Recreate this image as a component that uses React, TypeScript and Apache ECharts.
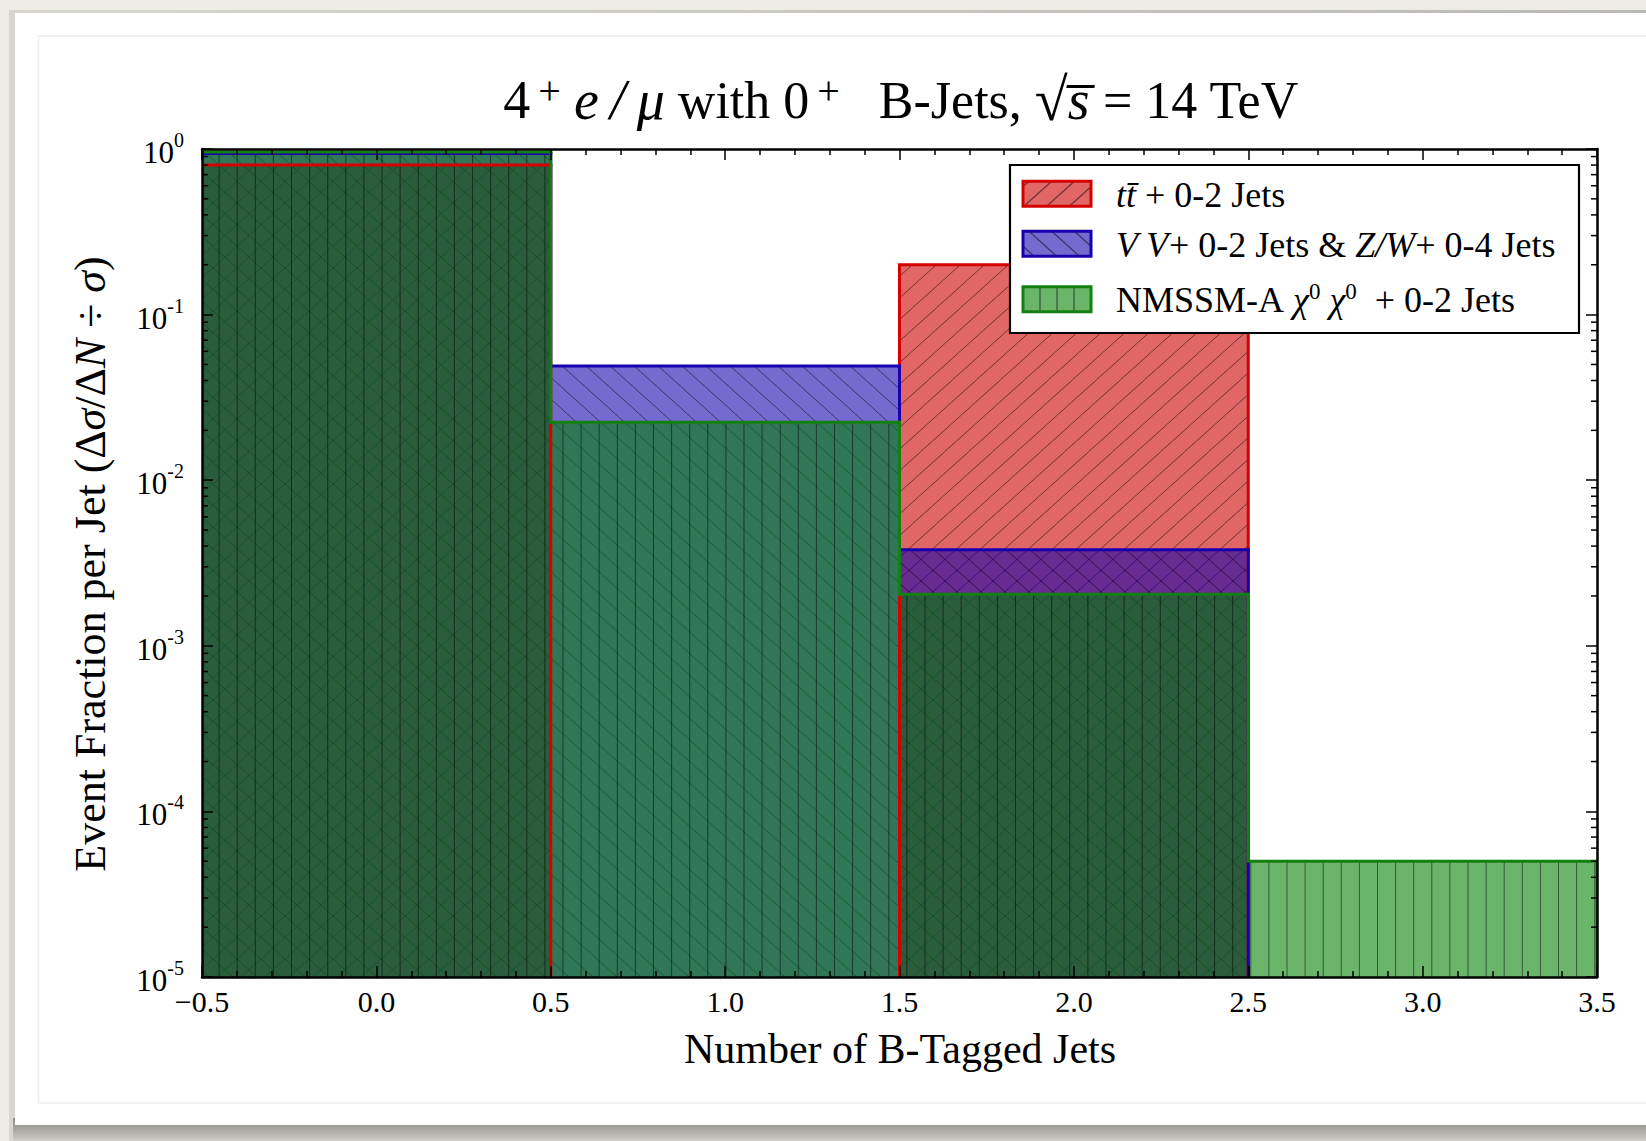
import React, { useEffect, useRef } from "react";
import * as echarts from "echarts";

// ---- data -------------------------------------------------------------
const BIN_EDGES = [-0.5, 0.5, 1.5, 2.5, 3.5];
const TTBAR_FRACTION = [0.8, 0, 0.2, 0];
const DIBOSON_FRACTION = [0.94, 0.049, 0.0038, 0];
const NMSSM_FRACTION = [0.96, 0.0224, 0.00205, 0.00005];

const SERIES_LABELS = [
  "{i|tt\u0304} + 0-2 Jets",
  "{i|V V}+ 0-2 Jets & {i|Z/W}+ 0-4 Jets",
  "NMSSM-A {i|\u03c7}{sup|0} {i|\u03c7}{sup|0}  + 0-2 Jets",
];

const X_MIN = -0.5;
const X_MAX = 3.5;
const X_STEP = 0.5;
const Y_MIN = 1e-5;
const Y_MAX = 1;

const TITLE_TEXT =
  "{n|4}{sup|\u2009+} {i|e\u2009/\u2009\u03bc} with 0{sup|\u2009+}   B-Jets, {rad|\u221a}{i|s\u0305} = 14 TeV";
const X_NAME = "Number of B-Tagged Jets";
const Y_NAME = "Event Fraction per Jet (\u0394{i|\u03c3}/\u0394{i|N} \u00f7 {i|\u03c3})";

// ---- styling ----------------------------------------------------------
const SERIF = "'Liberation Serif', 'DejaVu Serif', serif";
const HATCH_INK = "rgba(0,0,0,0.5)";
const HATCH_WIDTH = 1.0;
const SLOPE = 0.9;

type Hatch = "/" | "\\" | "|";

const STYLES: { face: string; edge: string; hatch: Hatch }[] = [
  { face: "rgba(205,0,0,0.6)", edge: "#d60000", hatch: "/" },
  { face: "rgba(17,0,172,0.58)", edge: "#1800b0", hatch: "\\" },
  { face: "rgba(0,128,0,0.58)", edge: "#138012", hatch: "|" },
];
const SERIES_DATA = [TTBAR_FRACTION, DIBOSON_FRACTION, NMSSM_FRACTION];

// line segments of a hatch pattern clipped to a pixel rectangle
function hatchSegments(
  L: number, T: number, R: number, B: number,
  kind: Hatch, ox: number, oy: number, sp: number
): number[][] {
  const out: number[][] = [];
  if (kind === "|") {
    const k0 = Math.ceil((L - ox) / sp);
    for (let k = k0; ox + k * sp < R; k++) {
      const x = ox + k * sp;
      if (x - L < 0.8) continue;
      out.push([x, T, x, B]);
    }
    return out;
  }
  const m = SLOPE;
  const dv = m * sp;
  if (kind === "/") {
    const c0 = oy + m * ox;
    const cmin = T + m * L, cmax = B + m * R;
    for (let k = Math.ceil((cmin - c0) / dv); c0 + k * dv <= cmax; k++) {
      const c = c0 + k * dv;
      const xa = Math.max(L, (c - B) / m);
      const xb = Math.min(R, (c - T) / m);
      if (xb - xa > 0.8) out.push([xa, c - m * xa, xb, c - m * xb]);
    }
  } else {
    const c0 = oy - m * ox;
    const cmin = T - m * R, cmax = B - m * L;
    for (let k = Math.ceil((cmin - c0) / dv); c0 + k * dv <= cmax; k++) {
      const c = c0 + k * dv;
      const xa = Math.max(L, (T - c) / m);
      const xb = Math.min(R, (B - c) / m);
      if (xb - xa > 0.8) out.push([xa, c + m * xa, xb, c + m * xb]);
    }
  }
  return out;
}

function fillRenderer(face: string, hatch: Hatch) {
  return (params: any, api: any) => {
    const x0 = api.value(0), x1 = api.value(1), v = api.value(2);
    if (!(v > 0)) return null;
    const tl = api.coord([x0, v]);
    const br = api.coord([x1, Y_MIN]);
    const cs = params.coordSys;
    const L = tl[0], T = tl[1], R = br[0], B = br[1];
    const sp = hatch === "|" ? 18.1 : 24;
    const segs = hatchSegments(L, T, R, B, hatch, cs.x - 1, cs.y, sp);
    return {
      type: "group",
      children: [
        { type: "rect", shape: { x: L, y: T, width: R - L, height: B - T }, style: { fill: face } },
        ...segs.map((s) => ({
          type: "line",
          shape: { x1: s[0], y1: s[1], x2: s[2], y2: s[3] },
          style: { stroke: HATCH_INK, lineWidth: HATCH_WIDTH },
        })),
      ],
    };
  };
}

function outlineRenderer(edge: string) {
  return (_params: any, api: any) => {
    const x0 = api.value(0), x1 = api.value(1), prev = api.value(2), v = api.value(3), last = api.value(4);
    const lo = (q: number) => (q > 0 ? q : Y_MIN);
    if (!(prev > 0) && !(v > 0)) return null;
    const pts = [api.coord([x0, lo(prev)]), api.coord([x0, lo(v)])];
    if (v > 0) {
      pts.push(api.coord([x1, v]));
      if (last) pts.push(api.coord([x1, Y_MIN]));
    }
    return {
      type: "polyline",
      shape: { points: pts },
      style: { stroke: edge, lineWidth: 3, fill: null, lineJoin: "miter", lineCap: "square" },
    };
  };
}

function minorTickRenderer(_params: any, api: any) {
  const v = api.value(0);
  const l = api.coord([X_MIN, v]);
  const r = api.coord([X_MAX, v]);
  return {
    type: "group",
    children: [
      { type: "line", shape: { x1: l[0], y1: l[1], x2: l[0] + 6, y2: l[1] }, style: { stroke: "#000", lineWidth: 1.5 } },
      { type: "line", shape: { x1: r[0] - 6, y1: r[1], x2: r[0], y2: r[1] }, style: { stroke: "#000", lineWidth: 1.5 } },
    ],
  };
}

function buildOption() {
  const bins = BIN_EDGES.slice(0, -1).map((e, i) => [e, BIN_EDGES[i + 1]]);
  const minorY: number[][] = [];
  for (let e = -5; e < 0; e++) for (let m = 2; m <= 9; m++) minorY.push([m * Math.pow(10, e)]);

  const fills = SERIES_DATA.map((vals, s) => ({
    type: "custom",
    name: `fill${s}`,
    xAxisIndex: 0,
    yAxisIndex: 0,
    clip: true,
    renderItem: fillRenderer(STYLES[s].face, STYLES[s].hatch),
    encode: { x: [0, 1], y: 2 },
    data: bins.map((b, i) => [b[0], b[1], vals[i]]).filter((d) => d[2] > 0),
    z: 2,
  }));
  const outlines = SERIES_DATA.map((vals, s) => ({
    type: "custom",
    name: `edge${s}`,
    xAxisIndex: 0,
    yAxisIndex: 0,
    clip: true,
    renderItem: outlineRenderer(STYLES[s].edge),
    encode: { x: [0, 1], y: 3 },
    data: bins.map((b, i) => [b[0], b[1], i === 0 ? 0 : vals[i - 1], vals[i], i === bins.length - 1 ? 1 : 0]),
    z: 3,
  }));

  const tickLine = { lineStyle: { color: "#000", width: 1.5 } };
  const xAxisBase = {
    type: "value",
    min: X_MIN,
    max: X_MAX,
    interval: X_STEP,
    splitLine: { show: false },
    axisLine: { show: true, onZero: false, lineStyle: { color: "#000", width: 2.5 } },
    axisTick: { show: true, inside: true, length: 11, ...tickLine },
    minorTick: { show: true, splitNumber: 5, length: 6, ...tickLine },
    z: 10,
  };
  const yAxisBase = {
    type: "log",
    logBase: 10,
    min: Y_MIN,
    max: Y_MAX,
    splitNumber: 5,
    splitLine: { show: false },
    axisLine: { show: true, onZero: false, lineStyle: { color: "#000", width: 2.5 } },
    axisTick: { show: true, inside: true, length: 11, ...tickLine },
    z: 10,
  };

  const LEGEND_FONT = 36;
  const legendElements: any[] = [];
  const rowY = [193.7, 243.8, 299.2];
  const box = { x: 1010, y: 165, w: 569, h: 168 };
  legendElements.push({
    type: "rect",
    z: 50,
    shape: { x: box.x, y: box.y, width: box.w, height: box.h },
    style: { fill: "#fff", stroke: "#000", lineWidth: 2.2 },
  });
  SERIES_LABELS.forEach((label, s) => {
    const px = 1023, pw = 68, ph = 25;
    const py = rowY[s] - ph / 2;
    legendElements.push({
      type: "rect",
      z: 51,
      shape: { x: px, y: py, width: pw, height: ph },
      style: { fill: STYLES[s].face, stroke: null },
    });
    const sp = STYLES[s].hatch === "|" ? 17 : 22.7;
    const ox = STYLES[s].hatch === "|" ? px : px + 6;
    hatchSegments(px, py, px + pw, py + ph, STYLES[s].hatch, ox, py, sp).forEach((g) => {
      legendElements.push({
        type: "line",
        z: 52,
        shape: { x1: g[0], y1: g[1], x2: g[2], y2: g[3] },
        style: { stroke: HATCH_INK, lineWidth: 1.3 },
      });
    });
    legendElements.push({
      type: "rect",
      z: 53,
      shape: { x: px, y: py, width: pw, height: ph },
      style: { fill: null, stroke: STYLES[s].edge, lineWidth: 3 },
    });
    legendElements.push({
      type: "text",
      z: 53,
      x: 1116,
      y: rowY[s] + 1,
      style: {
        text: label,
        font: `${LEGEND_FONT}px ${SERIF}`,
        fill: "#000",
        textAlign: "left",
        textVerticalAlign: "middle",
        rich: {
          i: { fontStyle: "italic", fontSize: LEGEND_FONT, fontFamily: SERIF },
          sup: { fontSize: 23, fontFamily: SERIF, verticalAlign: "top", lineHeight: 40 },
        },
      },
    });
  });

  const TITLE_FONT = 52;
  const frame: any[] = [
    // card shadow and card
    { type: "rect", z: -10, shape: { x: 9, y: 10, width: 1700, height: 1131 }, style: { fill: new echarts.graphic.LinearGradient(1, 0, 0, 0, [{ offset: 0, color: "#b9b8b4" }, { offset: 1, color: "#d8d6d0" }]) } },
    { type: "rect", z: -9, shape: { x: 13, y: 1118, width: 1700, height: 23 }, style: { fill: new echarts.graphic.LinearGradient(0, 0, 0, 1, [{ offset: 0, color: "#8d8c89" }, { offset: 0.5, color: "#a8a7a3" }, { offset: 1, color: "#cfcdc7" }]) } },
    { type: "rect", z: -8, shape: { x: 15, y: 13, width: 1700, height: 1112 }, style: { fill: "#ffffff" } },
    { type: "rect", z: -7, shape: { x: 38.5, y: 36, width: 1700, height: 1067 }, style: { fill: null, stroke: "#ececec", lineWidth: 1.5 } },
    // title
    {
      type: "text",
      z: 5,
      x: 901,
      y: 100,
      style: {
        text: TITLE_TEXT,
        font: `${TITLE_FONT}px ${SERIF}`,
        fill: "#000",
        textAlign: "center",
        textVerticalAlign: "middle",
        rich: {
          n: { fontSize: TITLE_FONT + 2, fontFamily: SERIF },
          i: { fontSize: TITLE_FONT + 4, fontFamily: SERIF, fontStyle: "italic" },
          rad: { fontSize: TITLE_FONT + 8, fontFamily: SERIF },
          sup: { fontSize: 40, fontFamily: SERIF, verticalAlign: "top", lineHeight: 60 },
        },
      },
    },
    // axis names
    {
      type: "text",
      z: 5,
      x: 900,
      y: 1049,
      style: { text: X_NAME, font: `42px ${SERIF}`, fill: "#000", textAlign: "center", textVerticalAlign: "middle" },
    },
    {
      type: "text",
      z: 5,
      x: 90,
      y: 564,
      rotation: Math.PI / 2,
      style: {
        text: Y_NAME,
        font: `44px ${SERIF}`,
        fill: "#000",
        textAlign: "center",
        textVerticalAlign: "middle",
        rich: { i: { fontStyle: "italic", fontSize: 44, fontFamily: SERIF } },
      },
    },
  ];

  return {
    animation: false,
    backgroundColor: "#efece5",
    grid: { left: 202, top: 149, right: 49, bottom: 164, containLabel: false },
    xAxis: [
      {
        ...xAxisBase,
        position: "bottom",
        axisLabel: {
          show: true,
          margin: 9,
          color: "#000",
          fontSize: 30,
          fontFamily: SERIF,
          formatter: (v: number) => (v < 0 ? "\u2212" + Math.abs(v).toFixed(1) : v.toFixed(1)),
        },
      },
      { ...xAxisBase, position: "top", axisLabel: { show: false } },
    ],
    yAxis: [
      {
        ...yAxisBase,
        position: "left",
        axisLabel: {
          show: true,
          margin: 18,
          color: "#000",
          fontFamily: SERIF,
          formatter: (v: number) => `{b|10}{s|${Math.round(Math.log10(v))}}`,
          rich: {
            b: { fontSize: 31, fontFamily: SERIF, verticalAlign: "bottom", lineHeight: 38 },
            s: { fontSize: 20, fontFamily: SERIF, verticalAlign: "top", lineHeight: 38 },
          },
        },
      },
      { ...yAxisBase, position: "right", axisLabel: { show: false } },
    ],
    graphic: { elements: [...frame, ...legendElements] },
    series: [
      ...fills,
      ...outlines,
      {
        type: "custom",
        name: "minorTicks",
        xAxisIndex: 0,
        yAxisIndex: 0,
        clip: false,
        renderItem: minorTickRenderer,
        encode: { y: 0 },
        data: minorY,
        z: 11,
      },
    ],
  };
}

export default function App() {
  const ref = useRef<HTMLDivElement>(null);
  useEffect(() => {
    document.body.style.margin = "0";
    if (!ref.current) return;
    const chart = echarts.init(ref.current, undefined, { renderer: "svg" });
    chart.setOption(buildOption() as any);
    return () => chart.dispose();
  }, []);
  return (
    <div
      ref={ref}
      style={{ position: "absolute", left: 0, top: 0, width: 1646, height: 1141, overflow: "hidden" }}
    />
  );
}
